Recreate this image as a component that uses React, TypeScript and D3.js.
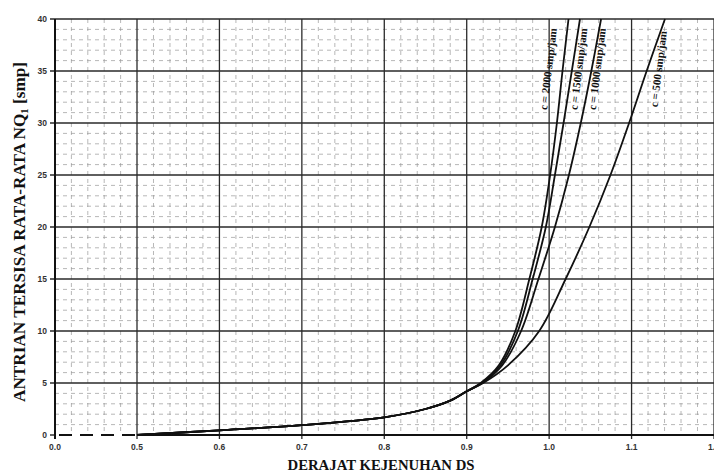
import * as d3 from "d3";
import React from "react";

// axis ticks (the 0.0 - 0.5 stretch of the x axis is squeezed, like the original)
const xTicks = [0.0, 0.5, 0.6, 0.7, 0.8, 0.9, 1.0, 1.1, 1.2];
const xTickLabels = ["0.0", "0.5", "0.6", "0.7", "0.8", "0.9", "1.0", "1.1", "1.2"];
const yTicks = [0, 5, 10, 15, 20, 25, 30, 35, 40];

// shared lower part of all curves
const baseDS = [0.5, 0.6, 0.7, 0.8, 0.85, 0.88, 0.9];
const baseNQ = [0, 0.45, 0.95, 1.7, 2.5, 3.3, 4.2];

// upper part, read per capacity
const upperNQ = [5, 6.7, 10, 15, 20, 25, 30, 35, 40];
const ds2000 = [0.917, 0.939, 0.959, 0.976, 0.991, 1.0012, 1.0094, 1.0162, 1.0235];
const ds1500 = [0.918, 0.941, 0.962, 0.98, 0.996, 1.007, 1.0175, 1.0275, 1.0374];
const ds1000 = [0.919, 0.943, 0.966, 0.987, 1.007, 1.024, 1.0384, 1.0512, 1.063];
const ds500 = [0.92, 0.95, 0.988, 1.02, 1.0488, 1.0744, 1.097, 1.1183, 1.1405];

const capacities = [2000, 1500, 1000, 500];
const curveDS = [ds2000, ds1500, ds1000, ds500];

const W = 714;
const H = 474;

export default function App() {
  const x = d3.scaleLinear().domain([0, 0.5, 1.2]).range([55, 137, 714]);
  const y = d3.scaleLinear().domain([0, 40]).range([435, 19]);

  const series = capacities.map((c, i) => {
    const pts: [number, number][] = baseDS.map((d, j) => [d, baseNQ[j]]);
    curveDS[i].forEach((d, j) => pts.push([d, upperNQ[j]]));
    return { c, pts };
  });

  const line = d3
    .line<[number, number]>()
    .x((d) => x(d[0]))
    .y((d) => y(d[1]))
    .curve(d3.curveCatmullRom.alpha(0.5));

  // minor grid
  const xMinor = [
    ...[0.1, 0.2, 0.3, 0.4],
    ...d3.range(0.52, 1.2, 0.02).filter((v) => Math.abs(v * 10 - Math.round(v * 10)) > 0.01),
  ];
  const yMinor = d3.range(1, 40).filter((v) => v % 5 !== 0);

  const labelDx = [-14, 7, 6, 12];
  const serif = "'Liberation Serif', 'Times New Roman', serif";
  const sans = "'Liberation Sans', Arial, sans-serif";
  const x0 = x(0);
  const x1 = x(1.2);

  return (
    <svg
      width={W}
      height={H}
      style={{ position: "absolute", left: 0, top: 0, background: "#fff" }}
    >
      {/* minor grid */}
      <g stroke="#9a9a9a" strokeWidth={0.7} strokeDasharray="4,4">
        {xMinor.map((v, i) => (
          <line key={"xm" + i} x1={x(v)} x2={x(v)} y1={y(40)} y2={y(0)} />
        ))}
        {yMinor.map((v) => (
          <line key={"ym" + v} x1={x0} x2={x1} y1={y(v)} y2={y(v)} />
        ))}
      </g>

      {/* major grid */}
      <g stroke="#2a2a2a" strokeWidth={1.3}>
        {xTicks.slice(1).map((v) => (
          <line key={"xM" + v} x1={x(v)} x2={x(v)} y1={y(40)} y2={y(0) + 4} />
        ))}
        {yTicks.slice(1).map((v) => (
          <line key={"yM" + v} x1={x0 - 5} x2={x1} y1={y(v)} y2={y(v)} />
        ))}
      </g>

      {/* axes */}
      <line x1={x0} x2={x0} y1={y(40)} y2={y(0) + 4} stroke="#111" strokeWidth={2} />
      <line x1={x0 - 5} x2={x0} y1={y(0)} y2={y(0)} stroke="#111" strokeWidth={1.3} />
      <line x1={x(0.5)} x2={x1} y1={y(0)} y2={y(0)} stroke="#111" strokeWidth={1.8} />
      <line
        x1={x0 + 4}
        x2={x(0.5)}
        y1={y(0)}
        y2={y(0)}
        stroke="#111"
        strokeWidth={1.8}
        strokeDasharray="13,8"
      />

      {/* tick labels */}
      <g fontFamily={sans} fontSize={8.5} fontWeight="bold" fill="#333">
        {yTicks.map((v) => (
          <text key={"yl" + v} x={x0 - 8} y={y(v) + 3} textAnchor="end">
            {v}
          </text>
        ))}
        {xTicks.map((v, i) => (
          <text key={"xl" + v} x={x(v)} y={450} textAnchor="middle">
            {xTickLabels[i]}
          </text>
        ))}
      </g>

      {/* curves */}
      <g fill="none" stroke="#111" strokeWidth={1.8}>
        {series.map((s) => (
          <path key={s.c} d={line(s.pts) || ""} />
        ))}
      </g>

      {/* curve labels */}
      <g fontFamily={serif} fontSize={11} fontWeight="bold" fill="#111">
        {series.map((s, i) => {
          const lx = x(curveDS[i][7]) + labelDx[i];
          const ly = y(35) - 2;
          return (
            <text
              key={"cl" + s.c}
              transform={`translate(${lx},${ly}) rotate(-83)`}
              textAnchor="middle"
              dy={3.5}
            >
              {`c = ${s.c} smp/jam`}
            </text>
          );
        })}
      </g>

      {/* axis titles */}
      <text
        x={381}
        y={470}
        textAnchor="middle"
        fontFamily={serif}
        fontSize={14}
        fontWeight="bold"
        fill="#111"
        textLength={187}
        lengthAdjust="spacingAndGlyphs"
      >
        DERAJAT KEJENUHAN DS
      </text>
      <text
        transform="translate(25,232) rotate(-90)"
        textAnchor="middle"
        fontFamily={serif}
        fontSize={16}
        fontWeight="bold"
        fill="#111"
        textLength={340}
        lengthAdjust="spacingAndGlyphs"
      >
        ANTRIAN TERSISA RATA-RATA NQ
        <tspan fontSize={10} dy={3}>1</tspan>
        <tspan dy={-3}> [smp]</tspan>
      </text>
    </svg>
  );
}
